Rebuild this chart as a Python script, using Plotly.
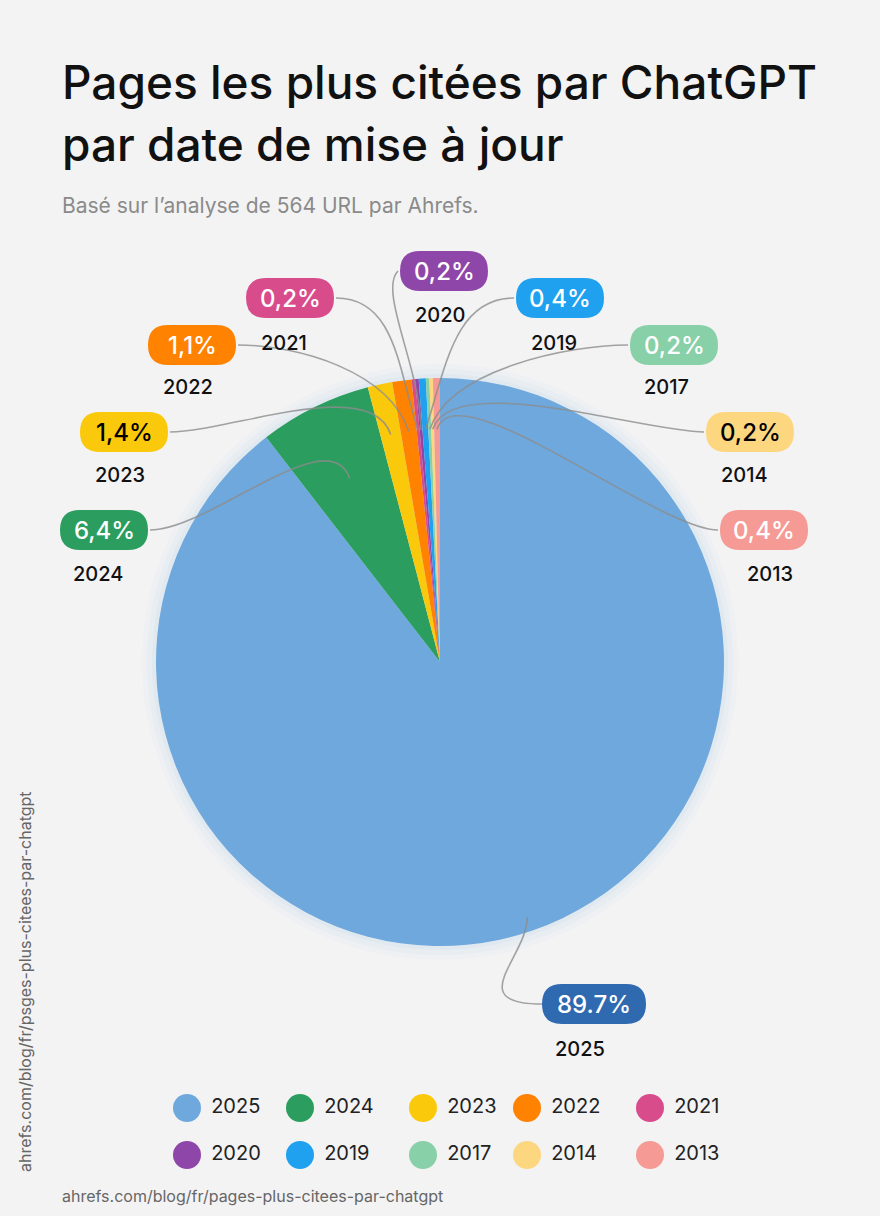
import numpy as np
import plotly.graph_objects as go

years = ["2025", "2024", "2023", "2022", "2021", "2020", "2019", "2017", "2014", "2013"]
shares = [89.7, 6.4, 1.4, 1.1, 0.2, 0.2, 0.4, 0.2, 0.2, 0.4]
labels = ["89.7%", "6,4%", "1,4%", "1,1%", "0,2%", "0,2%", "0,4%", "0,2%", "0,2%", "0,4%"]
colors = ["#6fa8dc", "#2a9d5f", "#fbc90b", "#ff8200", "#d94c8c",
          "#8e47a8", "#1fa1f0", "#88d0a8", "#fdd680", "#f59a94"]
box_colors = ["#2f69b0"] + colors[1:]
text_colors = ["white", "white", "black", "white", "white",
               "white", "white", "white", "black", "white"]

W, H = 880, 1216
CX, CY, R = 440, 662, 284
FONT = "Inter"

# label box centres (pixels) and year label positions
box_xy = [(594, 1004), (104, 530), (124, 432), (192, 345), (290, 298),
          (444, 271), (560, 298), (674, 345), (750, 432), (764, 530)]
year_xy = [(580, 1049), (98, 574), (120, 475), (188, 387), (284, 343),
           (440, 315), (554, 343), (666, 387), (744, 475), (770, 574)]

fig = go.Figure()

# soft glow
for i, a in enumerate([0.03, 0.04, 0.06]):
    r = R + 14 - i * 5
    fig.add_shape(type="circle", x0=CX - r, x1=CX + r, y0=CY - r, y1=CY + r,
                  fillcolor=f"rgba(111,168,220,{a})", line_width=0, layer="below")

fig.add_trace(go.Pie(
    values=shares, labels=years, sort=False, direction="clockwise", rotation=0,
    marker=dict(colors=colors, line=dict(width=0)),
    textinfo="none", hoverinfo="label+percent", showlegend=False,
    domain=dict(x=[(CX - R) / W, (CX + R) / W], y=[1 - (CY + R) / H, 1 - (CY - R) / H]),
))

# connector curves from label boxes into slices
cum = np.cumsum([0] + shares[:-1])
tot = sum(shares)
for i, y in enumerate(years):
    mid = (cum[i] + shares[i] / 2) / tot * 2 * np.pi
    rr = R * (0.95 if i == 0 else 0.82 if i > 1 else 0.72)
    ex, ey = CX + rr * np.sin(mid), CY - rr * np.cos(mid)
    bx, by = box_xy[i]
    if i == 0:
        sx, sy = bx - 52, by
        c1, c2 = (sx - 80, sy), (ex, ey + 40)
    elif bx < CX - 20:
        sx, sy = bx + 46, by
        c1, c2 = (sx + 60, sy), (ex - 20, ey - 60)
    elif bx > CX + 20:
        sx, sy = bx - 46, by
        c1, c2 = (sx - 60, sy), (ex + 20, ey - 60)
    else:
        sx, sy = bx - 46, by
        c1, c2 = (sx - 20, sy + 20), (ex, ey - 60)
    fig.add_shape(type="path", xref="x", yref="y",
                  path=f"M {sx},{sy} C {c1[0]},{c1[1]} {c2[0]},{c2[1]} {ex},{ey}",
                  line=dict(color="rgba(140,140,140,0.8)", width=1.6))

# label boxes
for i, y in enumerate(years):
    bx, by = box_xy[i]
    w = 104 if i == 0 else 88
    h = 40
    x0, x1, y0, y1 = bx - w / 2, bx + w / 2, by - h / 2, by + h / 2
    r = h / 2
    path = (f"M {x0 + r},{y0} L {x1 - r},{y0} Q {x1},{y0} {x1},{y0 + r} "
            f"Q {x1},{y1} {x1 - r},{y1} L {x0 + r},{y1} Q {x0},{y1} {x0},{y1 - r} "
            f"Q {x0},{y0} {x0 + r},{y0} Z")
    fig.add_shape(type="path", path=path, fillcolor=box_colors[i], line_width=0)
    fig.add_annotation(x=bx, y=by, text=labels[i], showarrow=False,
                       font=dict(size=24, color=text_colors[i], family=FONT, weight=500))
    yx, yy = year_xy[i]
    fig.add_annotation(x=yx, y=yy, text=y, showarrow=False,
                       font=dict(size=20, color="#111", family=FONT, weight=500))

# legend
lx, ly = [], []
for i in range(len(years)):
    lx.append([187, 300, 423, 527, 650][i % 5])
    ly.append(1108 if i < 5 else 1155)
fig.add_trace(go.Scatter(
    x=lx, y=ly, mode="markers+text", text=[" " + y for y in years],
    textposition="middle right",
    textfont=dict(size=20, color="#222", family=FONT),
    marker=dict(size=28, color=colors), hoverinfo="skip", showlegend=False,
    cliponaxis=False,
))

fig.add_annotation(x=60, y=82, xanchor="left", showarrow=False,
                   text="Pages les plus citées par ChatGPT",
                   font=dict(size=46, color="#111", family=FONT, weight=500))
fig.add_annotation(x=60, y=144, xanchor="left", showarrow=False,
                   text="par date de mise à jour",
                   font=dict(size=46, color="#111", family=FONT, weight=500))
fig.add_annotation(x=60, y=205, xanchor="left", showarrow=False,
                   text="Basé sur l’analyse de 564 URL par Ahrefs.",
                   font=dict(size=21, color="#8a8a8a", family=FONT))
fig.add_annotation(x=60, y=1196, xanchor="left", showarrow=False,
                   text="ahrefs.com/blog/fr/pages-plus-citees-par-chatgpt",
                   font=dict(size=16, color="#666", family=FONT))
fig.add_annotation(x=25, y=982, textangle=-90, showarrow=False,
                   text="ahrefs.com/blog/fr/psges-plus-citees-par-chatgpt",
                   font=dict(size=16, color="#666", family=FONT))

fig.update_layout(
    width=W, height=H, margin=dict(l=0, r=0, t=0, b=0),
    paper_bgcolor="#f3f3f4", plot_bgcolor="rgba(0,0,0,0)",
    xaxis=dict(range=[0, W], visible=False, fixedrange=True),
    yaxis=dict(range=[H, 0], visible=False, fixedrange=True),
)

fig.write_html("out.html", config={"displayModeBar": False},
               post_script="document.body.style.margin='0';")
